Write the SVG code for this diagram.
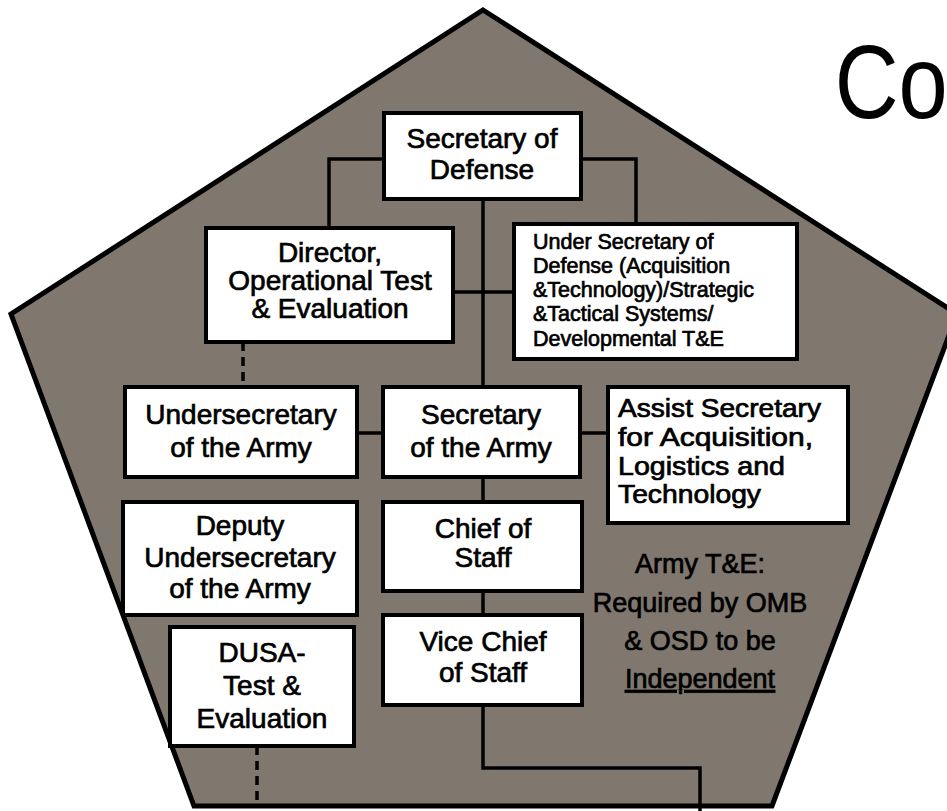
<svg xmlns="http://www.w3.org/2000/svg" width="947" height="811" viewBox="0 0 947 811">
<style>
.box{fill:#fff;stroke:#000;stroke-width:4}
.t{font-family:"Liberation Sans",Arial,sans-serif;font-size:28px;fill:#000;stroke:#000;stroke-width:0.7;text-anchor:middle}
.tl{text-anchor:start}
.c{fill:none;stroke:#000;stroke-width:3.5}
.d{fill:none;stroke:#000;stroke-width:3.5;stroke-dasharray:9 6}
</style>
<rect width="947" height="811" fill="#fff"/>
<polygon id="pentagon" points="483,10 957,314 772,806 194,806 11,314" fill="#80776f" stroke="#000" stroke-width="5" stroke-linejoin="miter"/>
<text id="title" x="982" y="118" transform="scale(0.85,1)" font-family="Liberation Sans,Arial,sans-serif" font-size="104" fill="#000">Co</text>
<g id="connectors">
<path class="c" d="M384,159 H329 V228"/>
<path class="c" d="M581,159 H636 V224"/>
<path class="c" d="M483,199 V387"/>
<path class="c" d="M453,292 H514"/>
<path class="d" d="M243,342 V387"/>
<path class="c" d="M357,433 H383"/>
<path class="c" d="M580,433 H608"/>
<path class="c" d="M483,477 V502"/>
<path class="c" d="M483,591 V615"/>
<path class="c" d="M483,705 V768 H700 V811"/>
<path class="d" d="M257,746 V806"/>
</g>
<g id="secdef">
<rect class="box" x="384" y="113" width="197" height="86"/>
<text class="t" x="482" y="148">Secretary of</text>
<text class="t" x="482" y="179">Defense</text>
</g>
<g id="dote">
<rect class="box" x="206" y="228" width="247" height="114"/>
<text class="t" x="330" y="262">Director,</text>
<text class="t" x="330" y="290">Operational Test</text>
<text class="t" x="330" y="318">&amp; Evaluation</text>
</g>
<g id="usd">
<rect class="box" x="514" y="224" width="283" height="135"/>
<text class="t tl" x="533" y="249" style="font-size:21.5px">Under Secretary of</text>
<text class="t tl" x="533" y="273" style="font-size:21.5px">Defense (Acquisition</text>
<text class="t tl" x="533" y="297" style="font-size:21.5px">&amp;Technology)/Strategic</text>
<text class="t tl" x="533" y="321" style="font-size:21.5px">&amp;Tactical Systems/</text>
<text class="t tl" x="533" y="346" style="font-size:21.5px">Developmental T&amp;E</text>
</g>
<g id="undersec">
<rect class="box" x="125" y="387" width="232" height="90"/>
<text class="t" x="241" y="424">Undersecretary</text>
<text class="t" x="241" y="457">of the Army</text>
</g>
<g id="secarmy">
<rect class="box" x="383" y="387" width="197" height="90"/>
<text class="t" x="481" y="424">Secretary</text>
<text class="t" x="481" y="457">of the Army</text>
</g>
<g id="asa">
<rect class="box" x="608" y="387" width="240" height="136"/>
<text class="t tl" x="618" y="417" style="font-size:25px" textLength="203" lengthAdjust="spacingAndGlyphs">Assist Secretary</text>
<text class="t tl" x="618" y="446" style="font-size:25px" textLength="195" lengthAdjust="spacingAndGlyphs">for Acquisition,</text>
<text class="t tl" x="618" y="475" style="font-size:25px" textLength="167" lengthAdjust="spacingAndGlyphs">Logistics and</text>
<text class="t tl" x="618" y="503" style="font-size:25px" textLength="143" lengthAdjust="spacingAndGlyphs">Technology</text>
</g>
<g id="deputy">
<rect class="box" x="123" y="502" width="234" height="113"/>
<text class="t" x="240" y="535">Deputy</text>
<text class="t" x="240" y="567">Undersecretary</text>
<text class="t" x="240" y="598">of the Army</text>
</g>
<g id="chief">
<rect class="box" x="383" y="502" width="199" height="89"/>
<text class="t" x="483" y="538">Chief of</text>
<text class="t" x="483" y="567">Staff</text>
</g>
<g id="vice">
<rect class="box" x="383" y="615" width="199" height="90"/>
<text class="t" x="483" y="651">Vice Chief</text>
<text class="t" x="483" y="682">of Staff</text>
</g>
<g id="dusa">
<rect class="box" x="170" y="627" width="184" height="119"/>
<text class="t" x="262" y="662">DUSA-</text>
<text class="t" x="262" y="695">Test &amp;</text>
<text class="t" x="262" y="728">Evaluation</text>
</g>
<g id="note">
<text class="t" x="700" y="573" style="font-size:27px">Army T&amp;E:</text>
<text class="t" x="700" y="612" style="font-size:27px">Required by OMB</text>
<text class="t" x="700" y="650" style="font-size:27px">&amp; OSD to be</text>
<text class="t" x="700" y="688" style="font-size:27px" text-decoration="underline">Independent</text>
</g>
</svg>
